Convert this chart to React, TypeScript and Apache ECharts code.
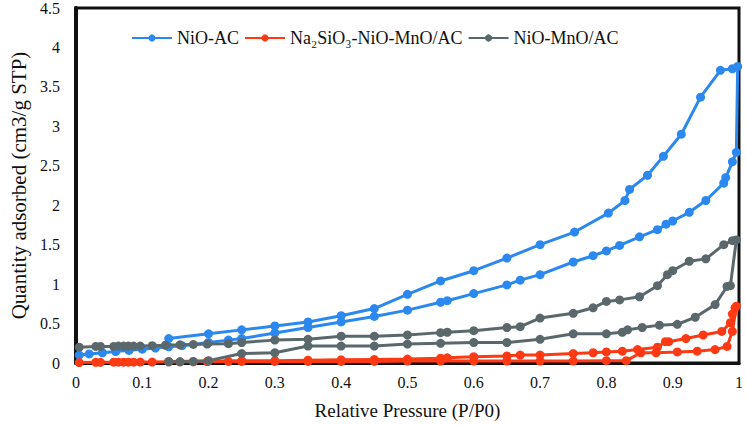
import React, { useEffect, useRef } from "react";
import * as echarts from "echarts";

const seriesNames = ["NiO-AC", "Na₂SiO₃-NiO-MnO/AC", "NiO-MnO/AC"];
const seriesColors = ["#2b88ee", "#fd3a14", "#5a686c"];

// NiO-AC: adsorption (ascending) then desorption (descending)
const nioAcX = [
  0.005, 0.02, 0.04, 0.06, 0.08, 0.1, 0.12, 0.14, 0.16, 0.2, 0.23, 0.25, 0.3, 0.35, 0.4, 0.45, 0.5,
  0.55, 0.56, 0.6, 0.65, 0.67, 0.7, 0.75, 0.78, 0.8, 0.82, 0.85, 0.877, 0.89, 0.9, 0.925, 0.95,
  0.977, 0.98, 0.99, 0.996,
  0.998, 0.99, 0.972, 0.942, 0.913, 0.886, 0.862, 0.835, 0.828, 0.803, 0.752, 0.7, 0.65, 0.6,
  0.55, 0.5, 0.45, 0.4, 0.35, 0.3, 0.25, 0.2, 0.14,
];
const nioAcY = [
  0.1, 0.115, 0.13, 0.145, 0.16, 0.175, 0.19, 0.205, 0.22, 0.26, 0.29, 0.31, 0.38, 0.45, 0.52,
  0.59, 0.67, 0.77, 0.79, 0.88, 0.99, 1.05, 1.12, 1.28, 1.36, 1.42, 1.49, 1.6, 1.69, 1.76, 1.8,
  1.91, 2.06, 2.28, 2.35, 2.55, 2.67,
  3.76, 3.73, 3.71, 3.37, 2.9, 2.62, 2.38, 2.2, 2.06, 1.9, 1.66, 1.5, 1.33, 1.17, 1.04, 0.87, 0.69,
  0.6, 0.52, 0.47, 0.42, 0.37, 0.31,
];

// Na2SiO3-NiO-MnO/AC
const naX = [
  0.005, 0.03, 0.037, 0.057, 0.064, 0.072, 0.079, 0.087, 0.097, 0.115, 0.14, 0.157, 0.177, 0.198,
  0.23, 0.25, 0.3, 0.35, 0.4, 0.45, 0.5, 0.55, 0.6, 0.65, 0.7, 0.75, 0.8, 0.83, 0.852, 0.875,
  0.907, 0.937, 0.964, 0.982, 0.99, 0.996,
  0.994, 0.99, 0.987, 0.974, 0.946, 0.92, 0.894, 0.889, 0.877, 0.847, 0.824, 0.8, 0.78, 0.75,
  0.7, 0.67, 0.65, 0.6, 0.56, 0.55, 0.5, 0.45, 0.4, 0.35, 0.3, 0.25, 0.2, 0.14,
];
const naY = [
  0.005, 0.008, 0.008, 0.01, 0.01, 0.01, 0.01, 0.01, 0.012, 0.012, 0.015, 0.015, 0.015, 0.018,
  0.02, 0.02, 0.02, 0.02, 0.02, 0.02, 0.025, 0.025, 0.025, 0.025, 0.025, 0.025, 0.03, 0.03, 0.13,
  0.13, 0.14, 0.15, 0.17, 0.21, 0.4, 0.72,
  0.7, 0.62, 0.51, 0.4, 0.355, 0.31, 0.27, 0.27, 0.2, 0.17, 0.15, 0.14, 0.13, 0.12, 0.1, 0.1,
  0.09, 0.08, 0.065, 0.06, 0.05, 0.045, 0.04, 0.035, 0.03, 0.028, 0.025, 0.02,
];

// NiO-MnO/AC
const mnX = [
  0.14, 0.157, 0.177, 0.2, 0.25, 0.3, 0.35, 0.4, 0.45, 0.5, 0.55, 0.6, 0.65, 0.7, 0.75, 0.8, 0.824,
  0.832, 0.854, 0.88, 0.907, 0.934, 0.964, 0.982, 0.987,
  0.996, 0.99, 0.977, 0.95, 0.925, 0.9, 0.892, 0.877, 0.85, 0.82, 0.8, 0.78, 0.75, 0.7, 0.67,
  0.65, 0.6, 0.56, 0.55, 0.5, 0.45, 0.4, 0.35, 0.3, 0.25, 0.23, 0.198, 0.177, 0.157, 0.135,
  0.115, 0.097, 0.087, 0.079, 0.072, 0.064, 0.057, 0.037, 0.03, 0.005,
];
const mnY = [
  0.015, 0.015, 0.02, 0.03, 0.12, 0.13, 0.215, 0.215, 0.215, 0.24, 0.25, 0.26, 0.26, 0.3, 0.37,
  0.37, 0.39, 0.42, 0.45, 0.48, 0.49, 0.58, 0.74, 0.97, 0.98,
  1.56, 1.55, 1.5, 1.32, 1.29, 1.17, 1.12, 0.98, 0.84, 0.8, 0.78, 0.7, 0.63, 0.57, 0.46, 0.45,
  0.41, 0.39, 0.385, 0.355, 0.34, 0.34, 0.3, 0.29, 0.26, 0.245, 0.24, 0.235, 0.23, 0.225, 0.22,
  0.215, 0.215, 0.215, 0.215, 0.215, 0.21, 0.21, 0.21, 0.2,
];

const xTicks = { min: 0, max: 1, interval: 0.1 };
const yTicks = { min: 0, max: 4.5, interval: 0.5 };

const zip = (xs: number[], ys: number[]) => xs.map((x, i) => [x, ys[i]]);

export default function App() {
  const ref = useRef<HTMLDivElement>(null);
  useEffect(() => {
    if (!ref.current) return;
    const chart = echarts.init(ref.current, undefined, { renderer: "svg" });
    const font = "'Liberation Serif', 'Times New Roman', serif";
    const data = [zip(nioAcX, nioAcY), zip(naX, naY), zip(mnX, mnY)];
    chart.setOption({
      animation: false,
      backgroundColor: "#ffffff",
      textStyle: { fontFamily: font },
      legend: {
        left: 126,
        top: 24,
        itemWidth: 40,
        itemHeight: 9,
        itemGap: 5,
        textStyle: { fontFamily: font, fontSize: 18, color: "#111" },
        data: seriesNames,
      },
      grid: {
        left: 72,
        right: 6,
        top: 7,
        bottom: 62,
        show: true,
        borderColor: "#111",
        borderWidth: 3,
        backgroundColor: "transparent",
      },
      xAxis: {
        type: "value",
        min: xTicks.min,
        max: xTicks.max,
        interval: xTicks.interval,
        name: "Relative Pressure (P/P0)",
        nameLocation: "middle",
        nameGap: 38,
        nameTextStyle: { fontFamily: font, fontSize: 19, color: "#111" },
        axisLine: { show: true, lineStyle: { color: "#111", width: 3 } },
        axisTick: { show: false },
        splitLine: { show: false },
        axisLabel: { fontFamily: font, fontSize: 16, color: "#111", margin: 11 },
      },
      yAxis: {
        type: "value",
        min: yTicks.min,
        max: yTicks.max,
        interval: yTicks.interval,
        name: "Quantity adsorbed (cm3/g STP)",
        nameLocation: "middle",
        nameGap: 46,
        nameTextStyle: { fontFamily: font, fontSize: 21, color: "#111" },
        axisLine: { show: true, lineStyle: { color: "#111", width: 4 } },
        axisTick: { show: false },
        splitLine: { show: false },
        axisLabel: { fontFamily: font, fontSize: 16, color: "#111", margin: 16 },
      },
      series: seriesNames.map((name, i) => ({
        name,
        type: "line",
        data: data[i],
        color: seriesColors[i],
        symbol: "circle",
        symbolSize: 9,
        lineStyle: { width: 3, color: seriesColors[i] },
        itemStyle: { color: seriesColors[i] },
        z: 2 + i,
      })),
    });
    return () => chart.dispose();
  }, []);
  return <div ref={ref} style={{ width: 746, height: 425, position: "absolute", left: 0, top: 0 }} />;
}
